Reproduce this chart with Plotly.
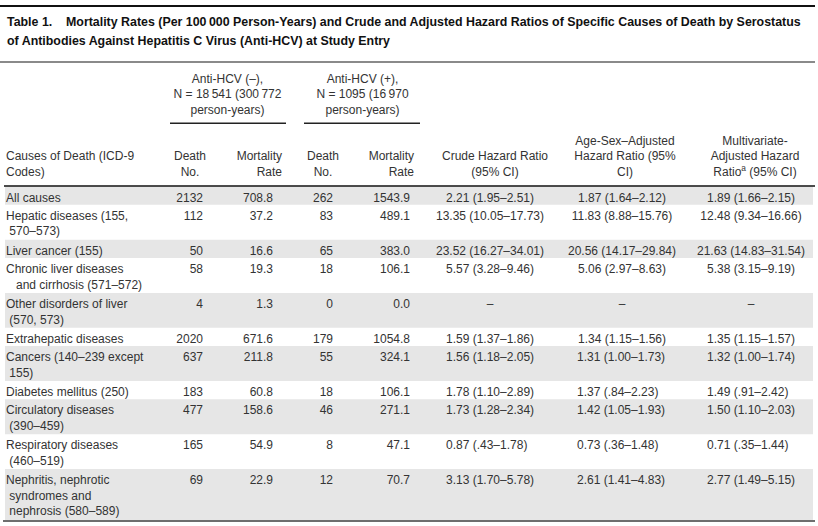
import plotly.graph_objects as go

# --- table content -------------------------------------------------------
causes = [
    "All causes",
    "Hepatic diseases (155,<br>\u00a0570–573)",
    "Liver cancer (155)",
    "Chronic liver diseases<br>\u00a0\u00a0\u00a0and cirrhosis (571–572)",
    "Other disorders of liver<br>\u00a0(570, 573)",
    "Extrahepatic diseases",
    "Cancers (140–239 except<br>\u00a0155)",
    "Diabetes mellitus (250)",
    "Circulatory diseases<br>\u00a0(390–459)",
    "Respiratory diseases<br>\u00a0(460–519)",
    "Nephritis, nephrotic<br>\u00a0syndromes and<br>\u00a0nephrosis (580–589)",
]
deaths_neg = [2132, 112, 50, 58, 4, 2020, 637, 183, 477, 165, 69]
rate_neg = [708.8, 37.2, 16.6, 19.3, 1.3, 671.6, 211.8, 60.8, 158.6, 54.9, 22.9]
deaths_pos = [262, 83, 65, 18, 0, 179, 55, 18, 46, 8, 12]
rate_pos = [1543.9, 489.1, 383.0, 106.1, 0.0, 1054.8, 324.1, 106.1, 271.1, 47.1, 70.7]
crude_hr = ["2.21 (1.95–2.51)", "13.35 (10.05–17.73)", "23.52 (16.27–34.01)",
            "5.57 (3.28–9.46)", "–", "1.59 (1.37–1.86)", "1.56 (1.18–2.05)",
            "1.78 (1.10–2.89)", "1.73 (1.28–2.34)", "0.87 (.43–1.78)",
            "3.13 (1.70–5.78)"]
agesex_hr = ["1.87 (1.64–2.12)", "11.83 (8.88–15.76)", "20.56 (14.17–29.84)",
             "5.06 (2.97–8.63)", "–", "1.34 (1.15–1.56)", "1.31 (1.00–1.73)",
             "1.37 (.84–2.23)", "1.42 (1.05–1.93)", "0.73 (.36–1.48)",
             "2.61 (1.41–4.83)"]
multi_hr = ["1.89 (1.66–2.15)", "12.48 (9.34–16.66)", "21.63 (14.83–31.54)",
            "5.38 (3.15–9.19)", "–", "1.35 (1.15–1.57)", "1.32 (1.00–1.74)",
            "1.49 (.91–2.42)", "1.50 (1.10–2.03)", "0.71 (.35–1.44)",
            "2.77 (1.49–5.15)"]

group_headers = ["Anti-HCV (–),<br>N = 18\u2009541 (300\u2009772<br>person-years)",
                 "Anti-HCV (+),<br>N = 1095 (16\u2009970<br>person-years)"]
col_headers = ["Causes of Death (ICD-9<br>Codes)", "Death<br>No.", "Mortality<br>Rate",
               "Death<br>No.", "Mortality<br>Rate", "Crude Hazard Ratio<br>(95% CI)",
               "Age-Sex–Adjusted<br>Hazard Ratio (95%<br>CI)",
               "Multivariate-<br>Adjusted Hazard<br>Ratio<sup>a</sup> (95% CI)"]

title_lines = [
    "Table 1.\u00a0\u00a0\u00a0\u00a0Mortality Rates (Per 100\u2009000 Person-Years) "
    "and Crude and Adjusted Hazard Ratios of Specific Causes of Death by Serostatus",
    "of Antibodies Against Hepatitis C Virus (Anti-HCV) at Study Entry",
]

# --- styling / geometry --------------------------------------------------
W, H = 818, 526
BODY_FONT = "Liberation Sans, Arial, Helvetica, sans-serif"
TITLE_FONT = "Liberation Sans, Arial, sans-serif"
TXT = "#333333"
SHADE = "#e6e6e6"
FS = 12

body_top = 186.5
row_base, row_extra = 18.3, 16.6
pad = 6

n_lines = [c.count("<br>") + 1 for c in causes]
heights = [row_base + row_extra * (n - 1) for n in n_lines]
tops = []
y = body_top
for h in heights:
    tops.append(y)
    y += h
text_y = [t + pad for t in tops]

fig = go.Figure()

# row shading
shapes = []
for i, (t, h) in enumerate(zip(tops, heights)):
    if i % 2 == 0:
        shapes.append(dict(type="rect", xref="x", yref="y", x0=5, x1=813, y0=t, y1=t + h,
                           fillcolor=SHADE, line_width=0, layer="below"))

# rules
rules = [
    (0, 815, 6, 2, "#111111"),
    (0, 815, 62, 2, "#8a8a8a"),
    (170, 286, 123.3, 1.5, "#222222"),
    (304, 420, 123.3, 1.5, "#222222"),
    (4, 815, 186, 1.5, "#111111"),
    (3, 815, 521, 2, "#6e6e6e"),
]
for x0, x1, yy, w, c in rules:
    shapes.append(dict(type="line", xref="x", yref="y", x0=x0, x1=x1, y0=yy, y1=yy,
                       line=dict(color=c, width=w)))


def add_col(x, ys, values, pos, fmt=str):
    xs = x if isinstance(x, list) else [x] * len(values)
    fig.add_trace(go.Scatter(
        x=xs, y=ys, mode="text", text=[fmt(v) for v in values],
        textposition=pos, textfont=dict(family=BODY_FONT, size=FS, color=TXT),
        hoverinfo="skip", showlegend=False, cliponaxis=False))


split = 6  # lower rows are left-aligned in the HR columns
add_col(6, text_y, causes, "bottom right")
add_col(203, text_y, deaths_neg, "bottom left")
add_col(273, text_y, rate_neg, "bottom left", lambda v: f"{v:.1f}")
add_col(333, text_y, deaths_pos, "bottom left")
add_col(410, text_y, rate_pos, "bottom left", lambda v: f"{v:.1f}")
hr_pos = ["bottom center" if i < split else "bottom right" for i in range(len(causes))]
for cx, lx, vals in [(490, 446, crude_hr), (622, 577, agesex_hr), (751, 707, multi_hr)]:
    add_col([cx if i < split else lx for i in range(len(vals))], text_y, vals, hr_pos)

# column headers: bottom-aligned just above the header rule
hx = [6, 190, 282, 323, 414, 495, 625, 755]
hpos = ["top right", "top center", "top left", "top center", "top left",
        "top center", "top center", "top center"]
add_col(hx, [179] * len(hx), col_headers, hpos)

# spanning group headers
add_col([227.5, 362.5], [73.5, 73.5], group_headers, "bottom center")

annotations = []
for ty, line in zip([22, 40.5], title_lines):
    annotations.append(dict(x=5, y=ty, xref="x", yref="y", text="<b>" + line + "</b>",
                            showarrow=False, xanchor="left", yanchor="middle",
                            font=dict(family=TITLE_FONT, size=12.4, color="#111111")))

fig.update_layout(
    width=W, height=H, margin=dict(l=0, r=0, t=0, b=0),
    paper_bgcolor="white", plot_bgcolor="white",
    xaxis=dict(range=[0, W], visible=False, fixedrange=True),
    yaxis=dict(range=[H, 0], visible=False, fixedrange=True),
    shapes=shapes, annotations=annotations,
)

# page body margin would shift the figure by 8px
fig.write_html("out.html", config={"displayModeBar": False},
               post_script="document.body.style.margin='0';")
